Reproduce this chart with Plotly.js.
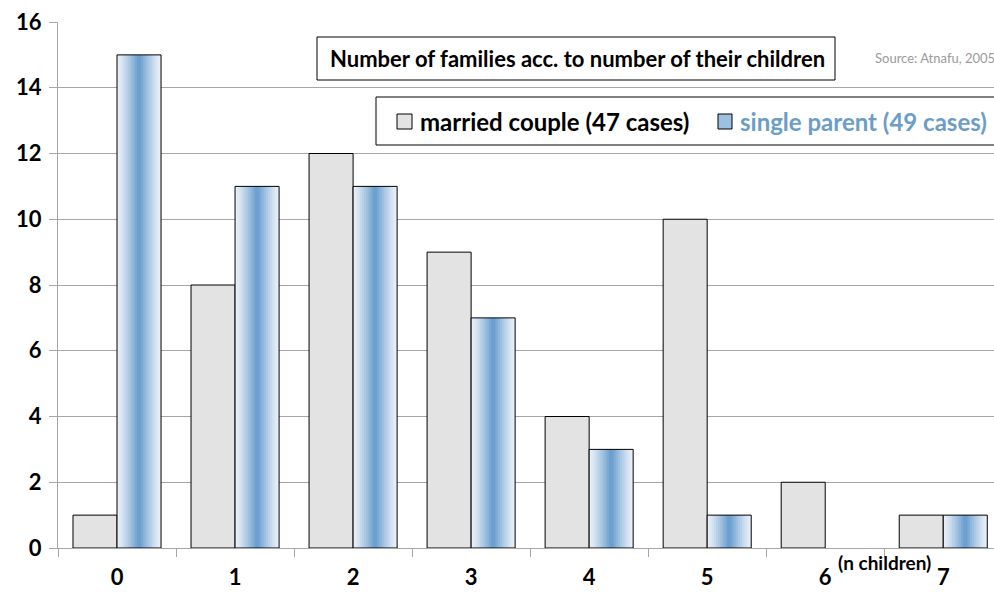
<!DOCTYPE html>
<html><head><meta charset="utf-8">
<script src="https://cdn.plot.ly/plotly-3.0.1.min.js"></script>
<style>html,body{margin:0;padding:0;background:#fff;}#chart{width:994px;height:592px;}</style>
</head><body><div id="chart"></div>
<script>
const categories = ['0','1','2','3','4','5','6','7'];
const marriedCouple = [1, 8, 12, 9, 4, 10, 2, 1];
const singleParent = [15, 11, 11, 7, 3, 1, 0, 1];
const seriesNames = ['married couple (47 cases)', 'single parent (49 cases)'];
const chartTitle = 'Number of families acc. to number of their children';
const sourceNote = 'Source: Atnafu, 2005';
const xNote = '(n children)';

const FONT = 'Lato, "Open Sans", sans-serif';
const W = 0.373;
const noZero = arr => arr.map(v => v === 0 ? null : v);
const spVals = noZero(singleParent);
const mcVals = noZero(marriedCouple);

const traces = [];
traces.push({type:'bar', x:categories, y:mcVals, width:W, offset:-W,
  marker:{color:'#e3e3e3', line:{color:'#000', width:1}}, showlegend:false, hoverinfo:'y'});

// gradient single-parent bars: layered overlays from light edge to darker centre
const N = 10;
function mix(a,b,t){return a.map((v,i)=>Math.round(v+(b[i]-v)*t));}
const edge=[232,239,247], centre=[108,160,208];
for(let k=0;k<N;k++){
  const w = W*(1-k/N);
  const t = Math.pow(k/(N-1),1.2);
  const c = mix(edge,centre,t);
  traces.push({type:'bar', x:categories, y:spVals, width:w, offset:W/2 - w/2,
    marker:{color:`rgb(${c.join(',')})`, line:{width:0}},
    showlegend:false, hoverinfo: k===0 ? 'y':'skip'});
}
traces.push({type:'bar', x:categories, y:spVals, width:W, offset:0,
  marker:{color:'rgba(0,0,0,0)', line:{color:'#000', width:1}}, showlegend:false, hoverinfo:'skip'});

const L=58, T=22, PW=936, PH=526;
const px = v => (v-L)/PW, py = v => (548-v)/PH;

const layout = {
  width:994, height:592,
  margin:{l:L, r:0, t:T, b:44},
  paper_bgcolor:'#fff', plot_bgcolor:'#fff',
  barmode:'overlay',
  font:{family:FONT, color:'#000'},
  xaxis:{type:'category', range:[-0.5,7.43],
    tickson:'boundaries', ticks:'outside', ticklen:8, tickcolor:'#a6a6a6',
    showline:true, linecolor:'#a6a6a6', linewidth:1, showgrid:false, zeroline:false,
    tickfont:{size:22, family:FONT, weight:'bold'}, ticklabelstandoff:10},
  yaxis:{range:[0,16], dtick:2, ticks:'outside', ticklen:8, tickcolor:'#a6a6a6',
    showline:true, linecolor:'#a6a6a6', linewidth:1, showgrid:true, gridcolor:'#a6a6a6', gridwidth:1,
    zeroline:false, tickfont:{size:22, family:FONT, weight:'bold'}, ticklabelstandoff:3},
  shapes:[
    {type:'rect', xref:'paper', yref:'paper', x0:px(317), x1:px(835), y0:py(80), y1:py(37),
     fillcolor:'#fff', line:{color:'#000', width:1}, layer:'above'},
    {type:'rect', xref:'paper', yref:'paper', x0:px(376), x1:px(1000), y0:py(145), y1:py(97),
     fillcolor:'#fff', line:{color:'#000', width:1}, layer:'above'},
    {type:'rect', xref:'paper', yref:'paper', x0:px(397), x1:px(412), y0:py(129), y1:py(114),
     fillcolor:'#e3e3e3', line:{color:'#000', width:1}, layer:'above'},
    {type:'rect', xref:'paper', yref:'paper', x0:px(718), x1:px(732), y0:py(129), y1:py(114),
     fillcolor:'#9cc0e2', line:{color:'#000', width:1}, layer:'above'}
  ],
  annotations:[
    {xref:'paper', yref:'paper', x:px(577), y:py(58), text:'<b>'+chartTitle+'</b>', showarrow:false,
     xanchor:'center', yanchor:'middle', font:{size:22, family:FONT, color:'#000'}},
    {xref:'paper', yref:'paper', x:px(873), y:py(58), text:sourceNote, showarrow:false,
     xanchor:'left', yanchor:'middle', font:{size:13, family:FONT, color:'#9a9a9a'}},
    {xref:'paper', yref:'paper', x:px(418), y:py(122), text:'<b>'+seriesNames[0]+'</b>', showarrow:false,
     xanchor:'left', yanchor:'middle', font:{size:24, family:FONT, color:'#000'}},
    {xref:'paper', yref:'paper', x:px(738), y:py(122), text:'<b>'+seriesNames[1]+'</b>', showarrow:false,
     xanchor:'left', yanchor:'middle', font:{size:24, family:FONT, color:'#6b9dc8'}},
    {xref:'paper', yref:'paper', x:px(884), y:py(562), text:'<b>'+xNote+'</b>', showarrow:false,
     xanchor:'center', yanchor:'middle', font:{size:19, family:FONT, color:'#000'}}
  ]
};
Plotly.newPlot('chart', traces, layout, {displayModeBar:false, staticPlot:true});
</script></body></html>
